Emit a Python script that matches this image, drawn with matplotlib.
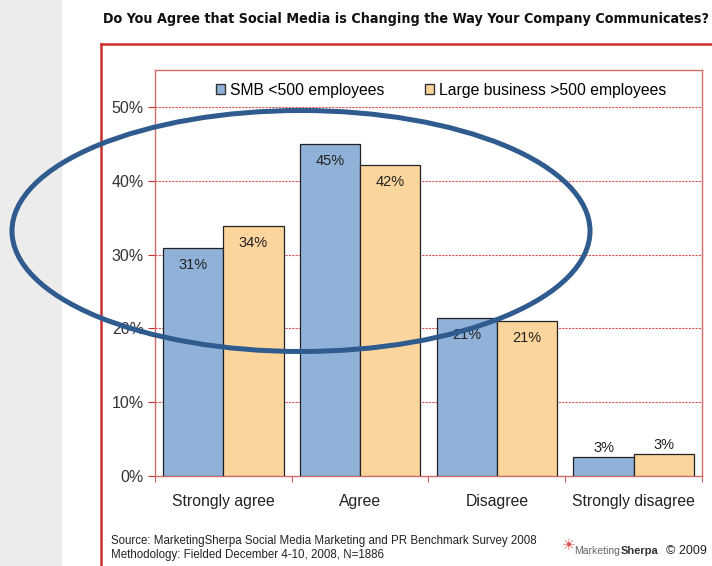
import numpy as np
import matplotlib
matplotlib.use("Agg")
import matplotlib.pyplot as plt
from matplotlib.patches import Ellipse, Rectangle
from matplotlib.lines import Line2D

# data
categories = ["Strongly agree", "Agree", "Disagree", "Strongly disagree"]
smb = [30.9, 45.0, 21.4, 2.6]
large = [33.9, 42.1, 21.0, 3.0]
smb_labels = ["31%", "45%", "21%", "3%"]
large_labels = ["34%", "42%", "21%", "3%"]
series_names = ["SMB <500 employees", "Large business >500 employees"]
yticks = [0, 10, 20, 30, 40, 50]

W, H = 712, 566
BLUE = "#91b2d8"
ORANGE = "#fbd59c"
RED = "#c9302c"
GRID_RED = "#d9534f"

plt.rcParams["font.family"] = ["Liberation Sans", "DejaVu Sans"]

fig = plt.figure(figsize=(W / 100, H / 100), dpi=100)
fig.patch.set_facecolor("white")

# gray strip on the left
fig.patches.append(Rectangle((0, 0), 62 / W, 1, transform=fig.transFigure,
                             facecolor="#ececec", edgecolor="none", zorder=0))

# outer red frame (top and left)
fig.lines.append(Line2D([101 / W, 101 / W], [0, 1 - 44 / H], transform=fig.transFigure,
                        color=RED, lw=1.8, zorder=1))
fig.lines.append(Line2D([101 / W, 1], [1 - 44 / H, 1 - 44 / H], transform=fig.transFigure,
                        color=RED, lw=1.8, zorder=1))

fig.text(103 / W, 1 - 19 / H,
         "Do You Agree that Social Media is Changing the Way Your Company Communicates?",
         family=["DejaVu Sans"], fontstretch="condensed", fontweight="bold",
         fontsize=10.3, color="#111111", va="center", ha="left")

ax = fig.add_axes([155 / W, 1 - 476 / H, (702 - 155) / W, (476 - 70) / H])
x = np.arange(len(categories))
bw = 0.44
ax.bar(x - bw / 2, smb, bw, color=BLUE, edgecolor="#222222", linewidth=0.9, zorder=3)
ax.bar(x + bw / 2, large, bw, color=ORANGE, edgecolor="#222222", linewidth=0.9, zorder=3)

for xi, v, lab in zip(x - bw / 2, smb, smb_labels):
    y = v - 2.3 if v > 10 else v + 1.2
    ax.text(xi, y, lab, ha="center", va="center", fontsize=10.5, color="#222222", zorder=4)
for xi, v, lab in zip(x + bw / 2, large, large_labels):
    y = v - 2.3 if v > 10 else v + 1.2
    ax.text(xi, y, lab, ha="center", va="center", fontsize=10.5, color="#222222", zorder=4)

ax.set_xlim(-0.5, len(categories) - 0.5)
ax.set_ylim(0, 55)
ax.set_yticks(yticks)
ax.set_yticklabels([f"{t}%" for t in yticks], fontsize=11.5, color="#333333")
for t in yticks[1:]:
    ax.axhline(t, color=GRID_RED, lw=0.8, ls=(0, (2, 1)), zorder=1)

ax.set_xticks(x)
ax.set_xticklabels(categories, fontsize=11.3, color="#222222")
ax.set_xticks(np.arange(-0.5, len(categories)), minor=True)
ax.tick_params(axis="x", which="major", length=0, pad=13)
ax.tick_params(axis="x", which="minor", length=4, color=RED, direction="out")
ax.tick_params(axis="y", length=5, color=RED, pad=3)
for s in ax.spines.values():
    s.set_color("#d46a6a")
    s.set_linewidth(1.0)

# legend
handles = [Rectangle((0, 0), 1, 1, facecolor=BLUE, edgecolor="#333333"),
           Rectangle((0, 0), 1, 1, facecolor=ORANGE, edgecolor="#333333")]
ax.legend(handles, series_names, loc="upper center", ncol=2, frameon=False,
          fontsize=11.3, handlelength=0.6, handleheight=0.6, handletextpad=0.3,
          columnspacing=2.6, bbox_to_anchor=(0.523, 1.003))

# footer
fig.text(111 / W, 1 - 541 / H,
         "Source: MarketingSherpa Social Media Marketing and PR Benchmark Survey 2008",
         fontsize=8.3, color="#222222", va="center", ha="left")
fig.text(111 / W, 1 - 555 / H,
         "Methodology: Fielded December 4-10, 2008, N=1886",
         fontsize=8.3, color="#222222", va="center", ha="left")
fig.text(574 / W, 1 - 551 / H, "Marketing", fontsize=7.5, color="#666666", va="center", ha="left")
fig.text(621 / W, 1 - 551 / H, "Sherpa", fontsize=8, color="#333333", fontweight="bold",
         va="center", ha="left")
fig.text(666 / W, 1 - 551 / H, "\u00a9 2009", fontsize=9, color="#222222", va="center", ha="left")
fig.text(562 / W, 1 - 545 / H, "\u2600", fontsize=11, color="#d9534f", va="center", ha="left",
         family=["DejaVu Sans"])

# blue highlight ellipse
fig.patches.append(Ellipse((301 / W, 1 - 231 / H), 578 / W, 241 / H,
                           transform=fig.transFigure, fill=False,
                           edgecolor="#2f5b8f", lw=3.6, zorder=10))

fig.savefig("out.png", dpi=100)
